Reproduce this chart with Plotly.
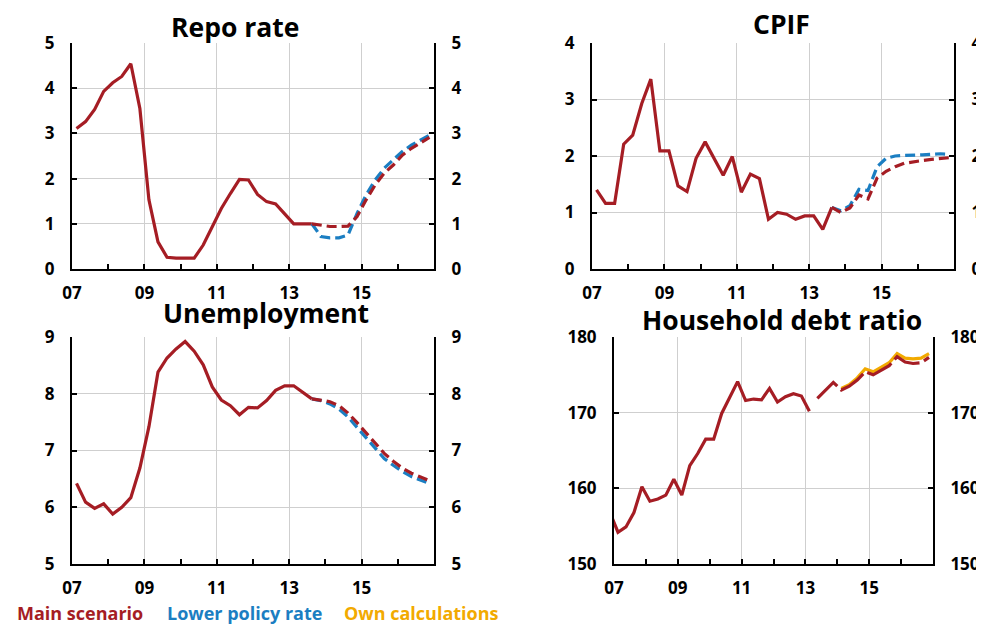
import plotly.graph_objects as go

# ---------------- data ----------------
# quarterly observations, plotted at the middle of each quarter
repo_hist_q0 = "2007Q1"
repo_hist = [3.11, 3.26, 3.53, 3.93, 4.12, 4.26, 4.54, 3.55, 1.53, 0.60, 0.26, 0.24, 0.24, 0.24,
             0.53, 0.94, 1.34, 1.67, 1.98, 1.97, 1.65, 1.49, 1.44, 1.22, 1.00, 1.00, 1.00]
repo_fc_q0 = "2013Q3"
repo_main_fc = [1.00, 0.97, 0.94, 0.94, 0.95, 1.16, 1.53, 1.86, 2.12, 2.30, 2.52, 2.67, 2.78, 2.91]
repo_low_fc = [1.00, 0.72, 0.69, 0.69, 0.75, 1.23, 1.64, 1.97, 2.23, 2.41, 2.60, 2.74, 2.85, 2.96]

cpif_hist_q0 = "2007Q1"
cpif_hist = [1.40, 1.16, 1.16, 2.21, 2.37, 2.93, 3.36, 2.09, 2.09, 1.47, 1.37, 1.96, 2.25, 1.96,
             1.66, 1.99, 1.36, 1.68, 1.60, 0.88, 1.00, 0.97, 0.88, 0.94, 0.94, 0.70, 1.09]
cpif_fc_q0 = "2013Q3"
cpif_main_fc = [1.09, 1.00, 1.08, 1.31, 1.24, 1.61, 1.73, 1.81, 1.87, 1.90, 1.92, 1.94, 1.96, 1.97]
cpif_low_fc = [1.09, 1.03, 1.12, 1.41, 1.39, 1.81, 1.96, 2.00, 2.01, 2.01, 2.02, 2.03, 2.04, 2.03]

unemp_hist_q0 = "2007Q1"
unemp_hist = [6.42, 6.09, 5.98, 6.06, 5.88, 6.00, 6.17, 6.69, 7.42, 8.38, 8.63, 8.79, 8.92, 8.75,
              8.51, 8.12, 7.89, 7.79, 7.63, 7.76, 7.75, 7.88, 8.06, 8.14, 8.14, 8.02, 7.91]
unemp_fc_q0 = "2013Q3"
unemp_main_fc = [7.91, 7.89, 7.86, 7.79, 7.66, 7.49, 7.31, 7.12, 6.95, 6.81, 6.69, 6.60, 6.54, 6.47]
unemp_low_fc = [7.91, 7.88, 7.82, 7.73, 7.59, 7.41, 7.22, 7.03, 6.86, 6.74, 6.63, 6.54, 6.48, 6.42]

debt_hist_q0 = "2006Q4"
debt_hist = [156.8, 154.2, 154.9, 156.8, 160.2, 158.3, 158.6, 159.1, 161.2, 159.1, 163.0, 164.6,
             166.5, 166.5, 169.9, 172.1, 174.1, 171.6, 171.8, 171.7, 173.2, 171.4, 172.1, 172.5,
             172.2, 170.2]
debt_fc_q0 = "2013Q2"
debt_main_fc = [171.9, 173.0, 174.0, 173.0, 173.5, 174.3, 175.4, 175.0, 175.6, 176.2, 177.4,
                176.7, 176.5, 176.6, 177.3]
debt_own_q0 = "2014Q1"
debt_own = [173.2, 173.7, 174.6, 175.8, 175.4, 176.0, 176.6, 177.8, 177.2, 177.1, 177.2, 177.8]

titles = ["Repo rate", "CPIF", "Unemployment", "Household debt ratio"]
y_ranges = [(0, 5, 1), (0, 4, 1), (5, 9, 1), (150, 180, 10)]
x_tickvals = [2007, 2009, 2011, 2013, 2015]
x_ticktext = ["07", "09", "11", "13", "15"]
x_minor = [2008, 2010, 2012, 2014, 2016]
legend_labels = ["Main scenario", "Lower policy rate", "Own calculations"]

RED = "#A51D24"
BLUE = "#1B7EC2"
YELLOW = "#F2AA00"
FONT = "Open Sans"


def qpos(start, n):
    y, q = int(start[:4]), int(start[-1])
    base = y + (q - 1) / 4 + 0.125
    return [base + 0.25 * k for k in range(n)]


# the page body has an 8px margin: the figure occupies window pixels 8..984 / 8..624
OFF = 8
W, H = 984 - OFF, 624 - OFF


def fx(px):
    return (px - OFF) / W


def fy(py):
    return 1 - (py - OFF) / H


# panel boxes in window pixels: left, right, top, bottom
boxes = [(72, 434, 43, 269), (592, 954, 43, 269), (72, 434, 337, 564), (614, 933, 337, 564)]

fig = go.Figure()


def add(panel, start, vals, color, dash, width=3.2):
    fig.add_trace(go.Scatter(
        x=qpos(start, len(vals)), y=vals, mode="lines",
        line=dict(color=color, width=width, dash=dash),
        xaxis=f"x{panel}", yaxis=f"y{panel}", showlegend=False, hoverinfo="skip"))


SD = "10px,5px"
add(1, repo_hist_q0, repo_hist, RED, "solid")
add(1, repo_fc_q0, repo_low_fc, BLUE, SD)
add(1, repo_fc_q0, repo_main_fc, RED, SD)

add(2, cpif_hist_q0, cpif_hist, RED, "solid")
add(2, cpif_fc_q0, cpif_low_fc, BLUE, SD)
add(2, cpif_fc_q0, cpif_main_fc, RED, SD)

add(3, unemp_hist_q0, unemp_hist, RED, "solid")
add(3, unemp_fc_q0, unemp_low_fc, BLUE, SD)
add(3, unemp_fc_q0, unemp_main_fc, RED, SD)

add(4, debt_hist_q0, debt_hist, RED, "solid")
add(4, debt_own_q0, debt_own, YELLOW, "solid")
add(4, debt_fc_q0, debt_main_fc, RED, "28px,5px")

tickfont = dict(family=FONT, size=17, color="black", weight="bold")
layout = dict(
    width=W, height=H, margin=dict(l=0, r=0, t=0, b=0, autoexpand=False),
    paper_bgcolor="white", plot_bgcolor="white", showlegend=False,
)

for i, (l, r, t, b) in enumerate(boxes):
    k = i + 1
    lo, hi, dt = y_ranges[i]
    xd = [fx(l), fx(r)]
    yd = [fy(b), fy(t)]
    layout[f"xaxis{k}"] = dict(
        domain=xd, anchor=f"y{k}", range=[2007, 2017], automargin=False,
        tickmode="array", tickvals=x_tickvals, ticktext=x_ticktext,
        ticks="inside", ticklen=5, tickwidth=2, tickcolor="black",
        showline=True, linecolor="black", linewidth=2,
        showgrid=True, gridcolor="#cfcfcf", gridwidth=1, zeroline=False,
        tickfont=tickfont, ticklabelstandoff=8,
        minor=dict(tickmode="array", tickvals=x_minor, ticks="inside", ticklen=5,
                   tickwidth=2, tickcolor="black", showgrid=False),
    )
    common = dict(
        range=[lo, hi], tickmode="linear", tick0=lo, dtick=dt, automargin=False,
        ticks="inside", ticklen=5, tickwidth=2, tickcolor="black",
        showline=True, linecolor="black", linewidth=2, zeroline=False,
        tickfont=tickfont, ticklabelstandoff=12,
    )
    layout[f"yaxis{k}"] = dict(domain=yd, anchor=f"x{k}", showgrid=True,
                               gridcolor="#cfcfcf", gridwidth=1, **common)
    layout[f"yaxis{k + 4}"] = dict(domain=yd, anchor=f"x{k}", overlaying=f"y{k}",
                                   side="right", showgrid=False, **common)

fig.update_layout(**layout)

# invisible traces so the right-hand axes are instantiated
for i in range(4):
    lo, hi, dt = y_ranges[i]
    fig.add_trace(go.Scatter(x=[2007, 2017], y=[lo, hi], mode="lines", line=dict(width=0),
                             opacity=0, xaxis=f"x{i + 1}", yaxis=f"y{i + 5}",
                             showlegend=False, hoverinfo="skip"))

title_pos = [(235, 27), (781, 24), (266, 313), (782, 320)]
for txt, (x, y) in zip(titles, title_pos):
    fig.add_annotation(text=txt, x=fx(x), y=fy(y), xref="paper", yref="paper",
                       xanchor="center", yanchor="middle", showarrow=False,
                       font=dict(family=FONT, size=26.5, color="black", weight="bold"))

legend_pos = [15, 165, 342]
for txt, col, x in zip(legend_labels, [RED, BLUE, YELLOW], legend_pos):
    fig.add_annotation(text=txt, x=fx(x), y=fy(613), xref="paper", yref="paper",
                       xanchor="left", yanchor="middle", showarrow=False,
                       font=dict(family=FONT, size=18, color=col, weight="bold"))

fig.write_html("out.html")
